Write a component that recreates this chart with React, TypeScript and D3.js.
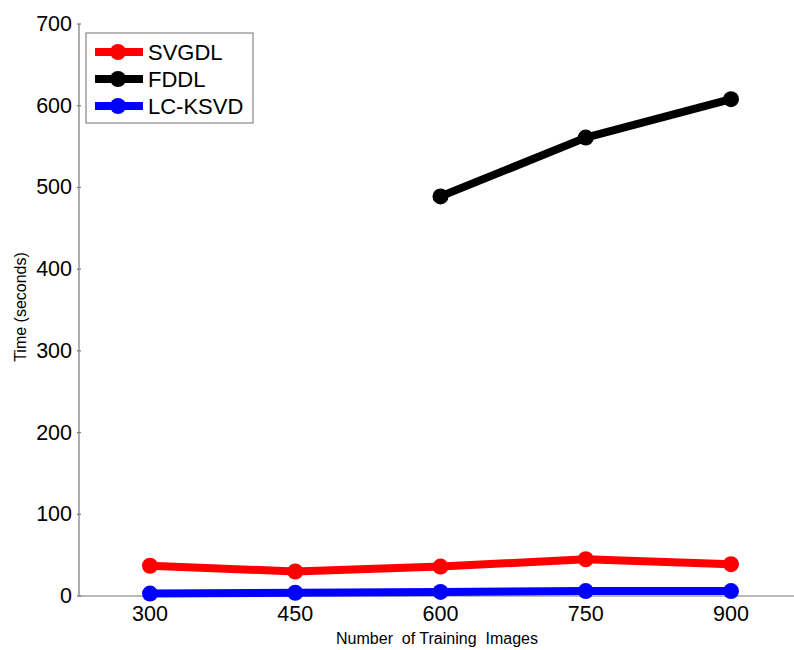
import React from "react";
import * as d3 from "d3";

const trainingSizes = [300, 450, 600, 750, 900];
const svgdlTimes = [37, 30, 36, 45, 39];
const fddlSizes = [600, 750, 900];
const fddlTimes = [489, 561, 608];
const lcksvdTimes = [3, 4, 5, 6, 6];
const yTicks = [0, 100, 200, 300, 400, 500, 600, 700];
const xTicks = [300, 450, 600, 750, 900];

const seriesNames = ["SVGDL", "FDDL", "LC-KSVD"];
const seriesColors = ["#ff0000", "#000000", "#0000ff"];

const W = 794;
const H = 650;
const axisLeft = 79;
const axisBottom = 596;
const axisTop = 24;

export default function App() {
  const x = d3.scaleLinear().domain([300, 900]).range([150, 731]);
  const y = d3.scaleLinear().domain([0, 700]).range([axisBottom, axisTop]);

  const series = [
    { name: seriesNames[0], color: seriesColors[0], xs: trainingSizes, ys: svgdlTimes },
    { name: seriesNames[1], color: seriesColors[1], xs: fddlSizes, ys: fddlTimes },
    { name: seriesNames[2], color: seriesColors[2], xs: trainingSizes, ys: lcksvdTimes },
  ];

  const line = d3
    .line<[number, number]>()
    .x((d) => x(d[0]))
    .y((d) => y(d[1]));

  const font = "'Liberation Sans', Arial, sans-serif";

  return (
    <svg
      width={W}
      height={H}
      style={{ position: "absolute", left: 0, top: 0, background: "#fff" }}
      fontFamily={font}
    >
      <rect x={0} y={0} width={W} height={H} fill="#fff" />
      {/* axes */}
      <line x1={axisLeft} y1={axisTop} x2={axisLeft} y2={axisBottom} stroke="#777" strokeWidth={1.2} />
      <line x1={axisLeft} y1={axisBottom} x2={W} y2={axisBottom} stroke="#777" strokeWidth={1.2} />
      {yTicks.map((t) => (
        <g key={"y" + t}>
          <line x1={axisLeft - 2} x2={axisLeft + 2} y1={y(t)} y2={y(t)} stroke="#777" strokeWidth={1.2} />
          <text x={72} y={y(t)} textAnchor="end" dominantBaseline="central" fontSize={21.5} fill="#000">
            {t}
          </text>
        </g>
      ))}
      {xTicks.map((t) => (
        <text key={"x" + t} x={x(t)} y={614} textAnchor="middle" dominantBaseline="central" fontSize={21.5} fill="#000">
          {t}
        </text>
      ))}
      <text
        transform={`translate(20,307) rotate(-90)`}
        textAnchor="middle"
        dominantBaseline="central"
        fontSize={16}
        fill="#000"
      >
        Time (seconds)
      </text>
      <text x={437} y={638} textAnchor="middle" dominantBaseline="central" fontSize={16} fill="#000" style={{ whiteSpace: "pre" }}>
        {"Number  of Training  Images"}
      </text>

      {/* series */}
      {series.map((s) => {
        const pts = s.xs.map((v, i) => [v, s.ys[i]] as [number, number]);
        return (
          <g key={s.name}>
            <path d={line(pts) || ""} fill="none" stroke={s.color} strokeWidth={8} strokeLinejoin="round" />
            {pts.map((p, i) => (
              <circle key={i} cx={x(p[0])} cy={y(p[1])} r={8} fill={s.color} />
            ))}
          </g>
        );
      })}

      {/* legend */}
      <rect x={86} y={33} width={167} height={90} fill="#fff" stroke="#888" strokeWidth={1.2} />
      {series.map((s, i) => {
        const ly = [52, 79, 106][i];
        return (
          <g key={"leg" + s.name}>
            <line x1={95} x2={143} y1={ly} y2={ly} stroke={s.color} strokeWidth={8} />
            <circle cx={118} cy={ly} r={8} fill={s.color} />
            <text x={148} y={ly} dominantBaseline="central" fontSize={22} fill="#000">
              {s.name}
            </text>
          </g>
        );
      })}
    </svg>
  );
}
